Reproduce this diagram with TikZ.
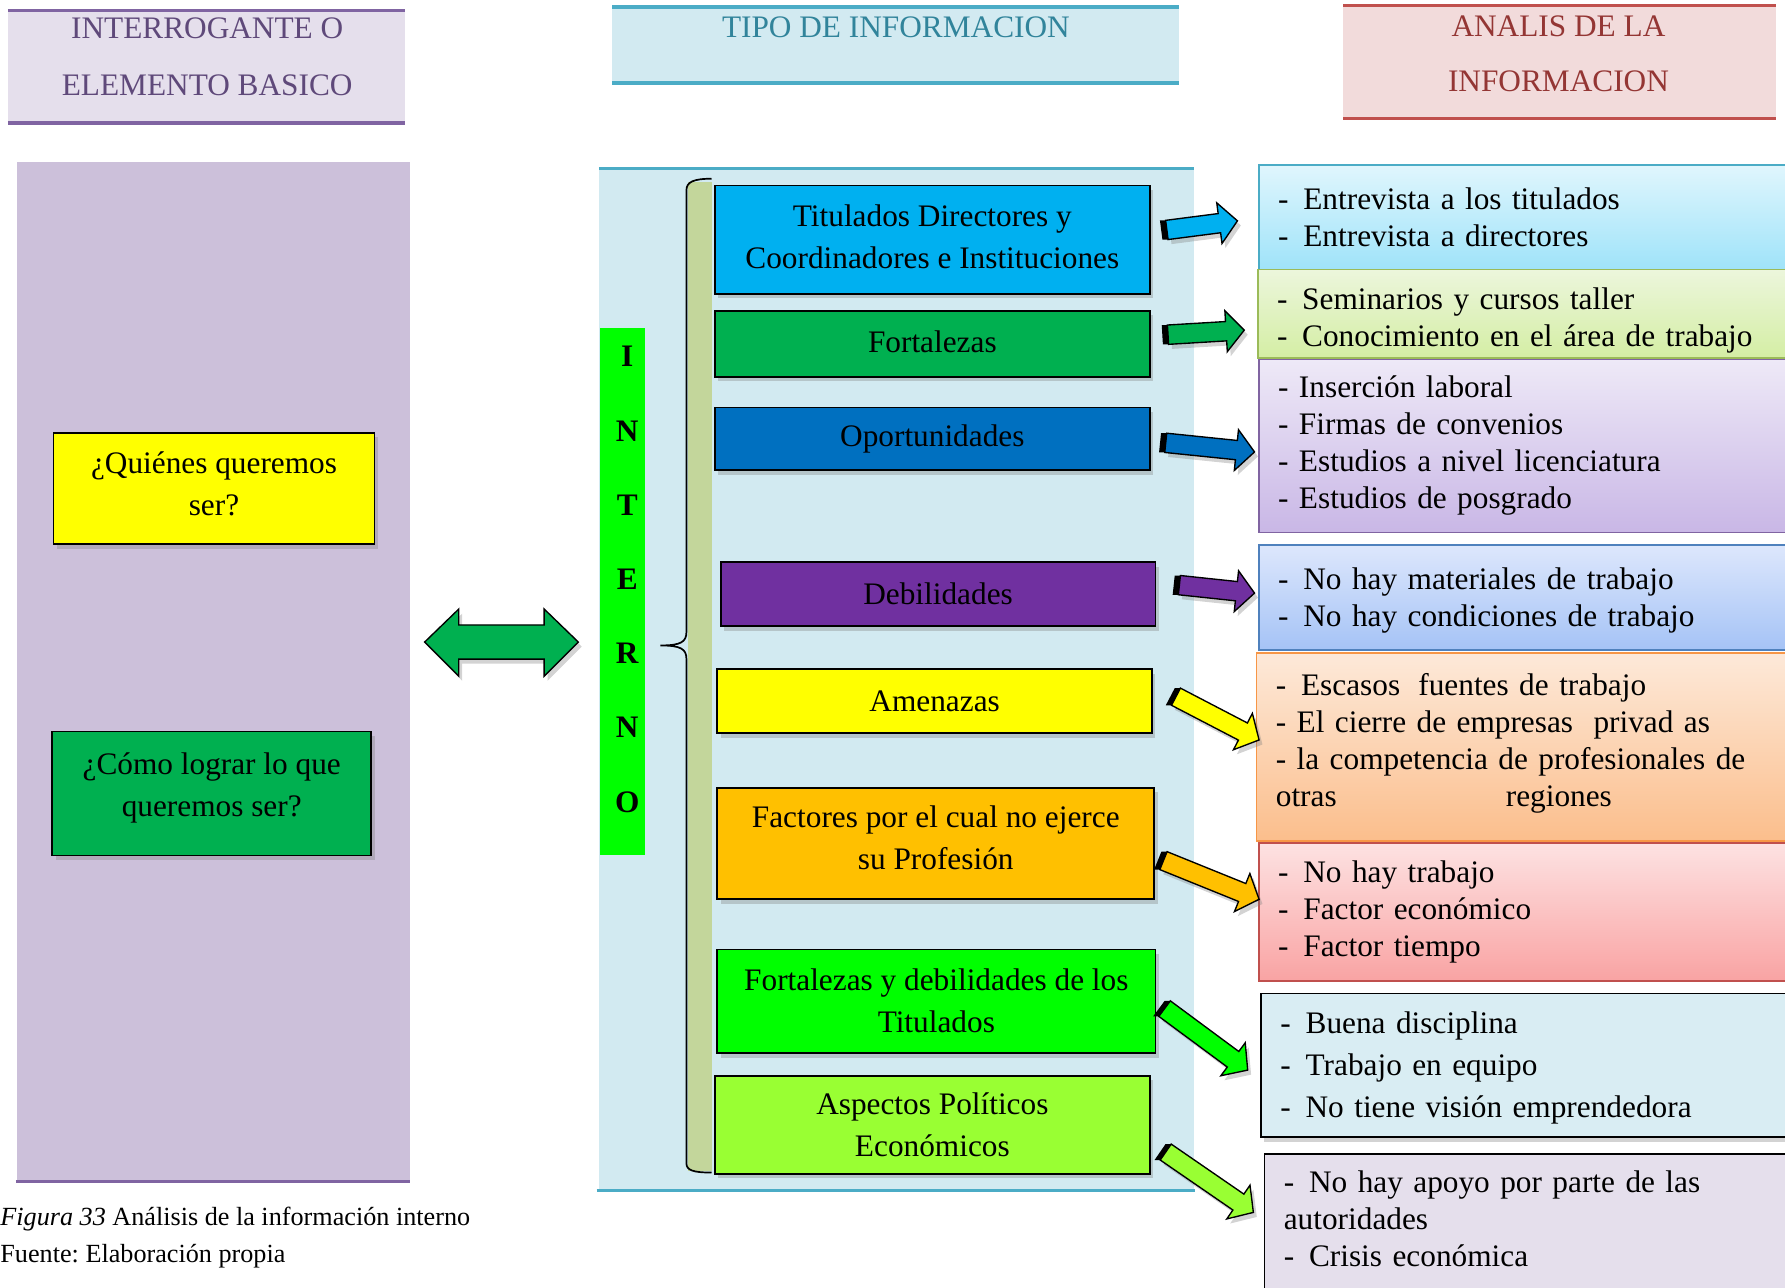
\documentclass[tikz,border=0pt]{standalone}
\usepackage{fontspec}
\setmainfont{Liberation Serif}
\usepackage{xcolor}
\usetikzlibrary{calc,shadows}
\frenchspacing

\definecolor{lilaFondo}{HTML}{E5DFEC}
\definecolor{lilaLinea}{HTML}{8064A2}
\definecolor{lilaTexto}{HTML}{5F497A}
\definecolor{celesteFondo}{HTML}{D2EAF1}
\definecolor{celesteLinea}{HTML}{4BACC6}
\definecolor{celesteTexto}{HTML}{31849B}
\definecolor{rosaFondo}{HTML}{F2DBDB}
\definecolor{rojoLinea}{HTML}{C0504D}
\definecolor{rojoTexto}{HTML}{943634}
\definecolor{panelLila}{HTML}{CCC0DA}
\definecolor{oliva}{HTML}{C3D69B}
\definecolor{azulCielo}{HTML}{00B0F0}
\definecolor{verdeOsc}{HTML}{00B050}
\definecolor{azulOsc}{HTML}{0070C0}
\definecolor{morado}{HTML}{7030A0}
\definecolor{amarillo}{HTML}{FFFF00}
\definecolor{naranja}{HTML}{FFC000}
\definecolor{verdeLima}{HTML}{00FF00}
\definecolor{verdeClaro}{HTML}{99FF33}
\definecolor{verdeBorde}{HTML}{9BBB59}
\definecolor{azulBorde}{HTML}{4F81BD}
\definecolor{naranjaBorde}{HTML}{F79646}
% gradient ends of the analysis boxes
\definecolor{cielo1}{HTML}{E0F6FD}  \definecolor{cielo2}{HTML}{9FE3F9}
\definecolor{lima1}{HTML}{ECF6DC}   \definecolor{lima2}{HTML}{D4EEA4}
\definecolor{lila1}{HTML}{EEE9F7}   \definecolor{lila2}{HTML}{C9B7E6}
\definecolor{azul1}{HTML}{DDE7FC}   \definecolor{azul2}{HTML}{A5C3F6}
\definecolor{durazno1}{HTML}{FDE9D9} \definecolor{durazno2}{HTML}{FBBE8C}
\definecolor{rosa1}{HTML}{FDE2E2}   \definecolor{rosa2}{HTML}{F9A3A3}

\tikzset{every picture/.style={line width=0.75pt}}
\tikzset{
  sombra/.style={drop shadow={opacity=0.35, shadow xshift=3pt, shadow yshift=-4pt}},
  encabezado/.style={align=center, inner sep=0pt, font=\fontsize{27.5}{50}\selectfont},
  mcaja/.style={draw=black, line width=1.6pt, align=center, inner sep=0pt, sombra,
    font=\fontsize{27.5}{37}\selectfont},
  rcaja/.style={anchor=north west, align=left, text width=433pt, inner xsep=17pt,
    inner ysep=0pt, line width=1.5pt, font=\fontsize{27.5}{32.5}\selectfont},
}

% extra depth / height to move a text block up or down in its box
\newcommand{\bajo}[1]{\rule[-#1]{0pt}{0pt}}
\newcommand{\alto}[1]{\rule{0pt}{#1}}

% block arrow: tail, tip, colour
\newcommand{\flecha}[3]{%
  \coordinate (fb) at ($(#2)!16pt!(#1)$);
  \draw[fill=#3, line width=1.2pt, sombra] ($(#1)!8.5pt!90:(#2)$) -- ($(fb)!8.5pt!90:(#2)$)
    -- ($(fb)!18pt!90:(#2)$) -- (#2) -- ($(fb)!18pt!-90:(#2)$)
    -- ($(fb)!8.5pt!-90:(#2)$) -- ($(#1)!8.5pt!-90:(#2)$) -- cycle;
  \fill[black] ($(#1)!8.5pt!90:(#2)$) -- ($(#1)!8.5pt!-90:(#2)$)
    -- ($(#1)!8.5pt!-90:(#2)+(-5,0)$) -- ($(#1)!8.5pt!90:(#2)+(-5,0)$) -- cycle;
}

\begin{document}
\begin{tikzpicture}[x=1pt,y=1pt,yscale=-1,xscale=1]
\useasboundingbox (0,0) rectangle (1568,1131);

%Shape: Rectangle [headers]
\fill[lilaFondo] (7,9) rectangle (356,108);
\draw[lilaLinea, line width=3pt] (7,9) -- (356,9) (7,108) -- (356,108);
\fill[celesteFondo] (538,6) rectangle (1036,73);
\draw[celesteLinea, line width=3pt] (538,6) -- (1036,6) (538,73) -- (1036,73);
\fill[rosaFondo] (1180,5) rectangle (1560,104);
\draw[rojoLinea, line width=3pt] (1180,5) -- (1560,5) (1180,104) -- (1560,104);

% Text Node
\node[encabezado, text=lilaTexto] (interrogante) at (182,50) {INTERROGANTE O\\ELEMENTO BASICO};
% Text Node
\node[encabezado, text=celesteTexto] (tipoinfo) at (787,24) {TIPO DE INFORMACION};
% Text Node
\node[encabezado, text=rojoTexto, font=\fontsize{27.5}{48}\selectfont] (analisis) at (1369,47) {ANALIS DE LA\\INFORMACION};

%Shape: Rectangle [panels]
\fill[panelLila] (15,142) rectangle (360,1038);
\draw[lilaLinea, line width=3pt] (14,1038) -- (360,1038);
\fill[celesteFondo] (526,148) rectangle (1049,1046);
\draw[celesteLinea, line width=2.5pt] (526,148) -- (1049,148) (524,1046) -- (1050,1046);

% questions
\node[mcaja, fill=amarillo, minimum width=282pt, minimum height=98pt] (quienes) at (188,429) {¿Quiénes queremos\\ser?\bajo{8pt}};
\node[mcaja, fill=verdeOsc, minimum width=280pt, minimum height=109pt] (como) at (186,697) {¿Cómo lograr lo que\\queremos ser?\bajo{16pt}};

%Shape: Double arrow
\draw[fill=verdeOsc, line width=1.2pt, sombra] (373,564) -- (403,535) -- (403,549) -- (478,549) -- (478,535)
  -- (508,564) -- (478,594) -- (478,579) -- (403,579) -- (403,594) -- cycle;

% INTERNO bar
\fill[verdeLima] (527,288) rectangle (567,751);
\node[align=center, inner sep=0pt, font=\fontsize{27.5}{65.2}\selectfont\bfseries] (interno) at (551,509) {I\\N\\T\\E\\R\\N\\O};

% brace
\fill[oliva] (604,160) rectangle (625,1029);
\draw[line width=1.5pt] (625,157) .. controls (609,157) and (603,160) .. (603,167) -- (603,555)
  .. controls (603,564) and (598,567) .. (580,567) .. controls (598,567) and (603,570) .. (603,579)
  -- (603,1022) .. controls (603,1028) and (609,1030) .. (625,1030);

% type boxes
\node[mcaja, fill=azulCielo, minimum width=382pt, minimum height=95pt] (titulados) at (819,210.5) {Titulados Directores y\\Coordinadores e Instituciones\bajo{6pt}};
\node[mcaja, fill=verdeOsc, minimum width=382pt, minimum height=58pt] (fortalezas) at (819,302) {Fortalezas\bajo{4pt}};
\node[mcaja, fill=azulOsc, minimum width=382pt, minimum height=55pt] (oportunidades) at (819,385.5) {Oportunidades};
\node[mcaja, fill=morado, minimum width=382pt, minimum height=56pt] (debilidades) at (824,522) {Debilidades};
\node[mcaja, fill=amarillo, minimum width=382pt, minimum height=56pt] (amenazas) at (821,616) {Amenazas};
\node[mcaja, fill=naranja, minimum width=384pt, minimum height=98pt] (factores) at (822,741) {Factores por el cual no ejerce\\su Profesión\bajo{10pt}};
\node[mcaja, fill=verdeLima, minimum width=385pt, minimum height=91pt] (fydtitulados) at (822.5,879.5) {Fortalezas y debilidades de los\\Titulados};
\node[mcaja, fill=verdeClaro, minimum width=382pt, minimum height=86pt] (aspectos) at (819,988) {Aspectos Políticos\\Económicos};

% analysis boxes
\node[rcaja, draw=celesteLinea, top color=cielo1, bottom color=cielo2, minimum height=92pt] (ana1) at (1105,144)
  {-\hspace{13pt}Entrevista a los titulados\\-\hspace{13pt}Entrevista a directores};
\node[rcaja, draw=verdeBorde, top color=lima1, bottom color=lima2, minimum height=78pt] (ana2) at (1104,236)
  {\alto{30pt}-\hspace{13pt}Seminarios y cursos taller\\-\hspace{13pt}Conocimiento en el área de trabajo};
\node[rcaja, draw=lilaLinea, top color=lila1, bottom color=lila2, minimum height=152pt] (ana3) at (1105,315)
  {- Inserción laboral\\- Firmas de convenios\\- Estudios a nivel licenciatura\\- Estudios de posgrado};
\node[rcaja, draw=azulBorde, top color=azul1, bottom color=azul2, minimum height=92pt] (ana4) at (1105,478)
  {\alto{25pt}-\hspace{13pt}No hay materiales de trabajo\\-\hspace{13pt}No hay condiciones de trabajo};
\node[rcaja, draw=naranjaBorde, top color=durazno1, bottom color=durazno2, minimum height=165pt] (ana5) at (1103,573)
  {-\hspace{13pt}Escasos\hspace{16pt}fuentes de trabajo\\\makebox[279pt][l]{- El cierre de empresas}privad as\\- la competencia de profesionales de\\\makebox[202pt][l]{otras}regiones\bajo{12pt}};
\node[rcaja, draw=rojoLinea, top color=rosa1, bottom color=rosa2, minimum height=121pt] (ana6) at (1105,740)
  {-\hspace{13pt}No hay trabajo\\-\hspace{13pt}Factor económico\\-\hspace{13pt}Factor tiempo};
\node[rcaja, draw=black, fill=celesteFondo!85!white, minimum height=126pt, sombra, font=\fontsize{27.5}{37}\selectfont] (ana7) at (1107,872)
  {\alto{24pt}-\hspace{13pt}Buena disciplina\\-\hspace{13pt}Trabajo en equipo\\-\hspace{13pt}No tiene visión emprendedora};
\node[rcaja, draw=black, fill=lilaFondo, minimum height=120pt, sombra] (ana8) at (1110,1013)
  {-\hspace{13pt}No hay apoyo por parte de las\\autoridades\\-\hspace{13pt}Crisis económica\bajo{7pt}};

% arrows
\coordinate (c1a) at (1025,202); \coordinate (c1b) at (1087,194);
\coordinate (c2a) at (1026,294); \coordinate (c2b) at (1093,290);
\coordinate (c3a) at (1024,389); \coordinate (c3b) at (1102,397);
\coordinate (c4a) at (1036,514); \coordinate (c4b) at (1102,521);
\coordinate (c5a) at (1033,612); \coordinate (c5b) at (1106,650);
\coordinate (c6a) at (1022,756); \coordinate (c6b) at (1106,790);
\coordinate (c7a) at (1023,886); \coordinate (c7b) at (1096,940);
\coordinate (c8a) at (1024,1012); \coordinate (c8b) at (1101,1065);
\flecha{c1a}{c1b}{azulCielo}
\flecha{c2a}{c2b}{verdeOsc}
\flecha{c3a}{c3b}{azulOsc}
\flecha{c4a}{c4b}{morado}
\flecha{c5a}{c5b}{amarillo}
\flecha{c6a}{c6b}{naranja}
\flecha{c7a}{c7b}{verdeLima}
\flecha{c8a}{c8b}{verdeClaro}

% Text Node
\node[anchor=west, align=left, inner sep=0pt, font=\fontsize{23}{32}\selectfont] (pie) at (0,1087) {\textit{Figura 33} Análisis de la información interno\\Fuente: Elaboración propia};

\end{tikzpicture}
\end{document}
